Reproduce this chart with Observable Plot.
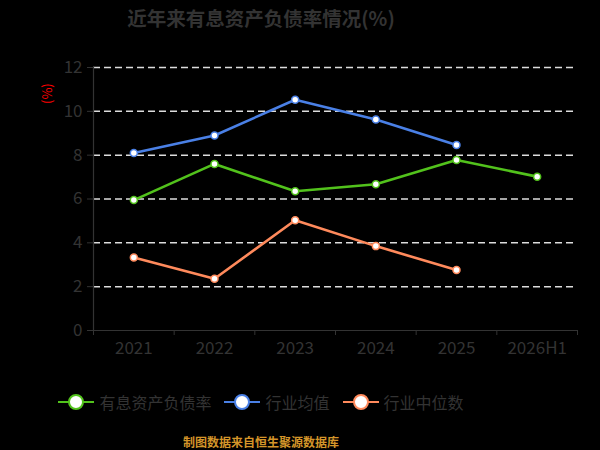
<!DOCTYPE html>
<html>
<head>
<meta charset="utf-8">
<script src="https://cdn.jsdelivr.net/npm/d3@7"></script>
<script src="https://cdn.jsdelivr.net/npm/@observablehq/plot@0.6"></script>
<style>
  html, body { margin: 0; padding: 0; background: #000; }
  #wrap { position: relative; width: 600px; height: 450px; background: #000; font-family: "Noto Sans CJK SC", "Noto Sans", sans-serif; overflow: hidden; }
  #title { position: absolute; top: 0; left: 0; width: 522px; height: 36px; line-height: 36px; text-align: center; font-size: 19.5px; font-weight: bold; color: #333; }
  #chart { position: absolute; top: 36px; left: 0; }
  #unit { position: absolute; left: 37px; top: 84px; width: 20px; height: 20px; color: #ff0000; font-size: 13px; line-height: 20px; text-align: center; transform: rotate(-90deg); }
  #legend { position: absolute; top: 390px; left: 0; width: 522px; height: 24px; display: flex; justify-content: center; align-items: center; gap: 13px; font-size: 16px; color: #333; }
  .item { display: flex; align-items: center; gap: 5px; }
  #credit { position: absolute; top: 432px; left: 0; width: 522px; text-align: center; font-size: 12px; font-weight: bold; color: #d4952a; line-height: 20px; }
</style>
</head>
<body>
<div id="wrap">
  <div id="title">近年来有息资产负债率情况(%)</div>
  <div id="chart"></div>
  <div id="unit">(%)</div>
  <div id="legend"></div>
  <div id="credit">制图数据来自恒生聚源数据库</div>
</div>
<script>
const categories = ["2021", "2022", "2023", "2024", "2025", "2026H1"];
const seriesNames = ["有息资产负债率", "行业均值", "行业中位数"];
const seriesColors = ["#52c21c", "#4a80e6", "#ff8a5c"];
const debtRatio = [5.95, 7.6, 6.35, 6.67, 7.78, 7.02];
const industryMean = [8.1, 8.9, 10.53, 9.63, 8.46];
const industryMedian = [3.33, 2.36, 5.03, 3.85, 2.76];
const yTicks = [0, 2, 4, 6, 8, 10, 12];

const seriesValues = [debtRatio, industryMean, industryMedian];
const rows = [];
seriesValues.forEach((vals, s) => {
  vals.forEach((v, i) => rows.push({series: seriesNames[s], idx: i, cat: categories[i], value: v}));
});
const boundaries = d3.range(categories.length + 1).map(i => i - 0.5);
const gridTicks = yTicks.filter(t => t > 0);

const chart = Plot.plot({
  width: 600,
  height: 334,
  marginTop: 31,
  marginBottom: 40,
  marginLeft: 93,
  marginRight: 23,
  style: {background: "transparent", fontFamily: "'Noto Sans CJK SC', 'Noto Sans', sans-serif"},
  x: {type: "linear", domain: [-0.5, categories.length - 0.5]},
  y: {domain: [0, 12]},
  color: {domain: seriesNames, range: seriesColors},
  marks: [
    Plot.ruleY(gridTicks, {stroke: "#dddddd", strokeWidth: 1.5, strokeDasharray: "7,4"}),
    Plot.ruleX([-0.5], {y1: 0, y2: 12, stroke: "#333", strokeWidth: 1.2}),
    Plot.ruleY([0], {stroke: "#333", strokeWidth: 1.2}),
    Plot.axisY({ticks: yTicks, tickSize: 6, tickPadding: 5, fontSize: 17, color: "#333", stroke: "#333", label: null}),
    Plot.axisX({ticks: d3.range(categories.length), tickFormat: i => categories[i], tickSize: 0, tickPadding: 11, fontSize: 17, color: "#333", label: null}),
    Plot.axisX({ticks: boundaries, tickFormat: () => "", tickSize: 5, stroke: "#333", label: null}),
    Plot.line(rows, {x: "idx", y: "value", z: "series", stroke: "series", strokeWidth: 2.6}),
    Plot.dot(rows, {x: "idx", y: "value", stroke: "series", fill: "white", r: 3.5, strokeWidth: 1.5})
  ]
});
document.getElementById("chart").appendChild(chart);

const legend = d3.select("#legend");
seriesNames.forEach((name, i) => {
  const item = legend.append("div").attr("class", "item");
  const svg = item.append("svg").attr("width", 36).attr("height", 18);
  svg.append("line").attr("x1", 0).attr("x2", 36).attr("y1", 9).attr("y2", 9).attr("stroke", seriesColors[i]).attr("stroke-width", 2);
  svg.append("circle").attr("cx", 18).attr("cy", 9).attr("r", 7).attr("fill", "white").attr("stroke", seriesColors[i]).attr("stroke-width", 2);
  item.append("span").text(name);
});
</script>
</body>
</html>
